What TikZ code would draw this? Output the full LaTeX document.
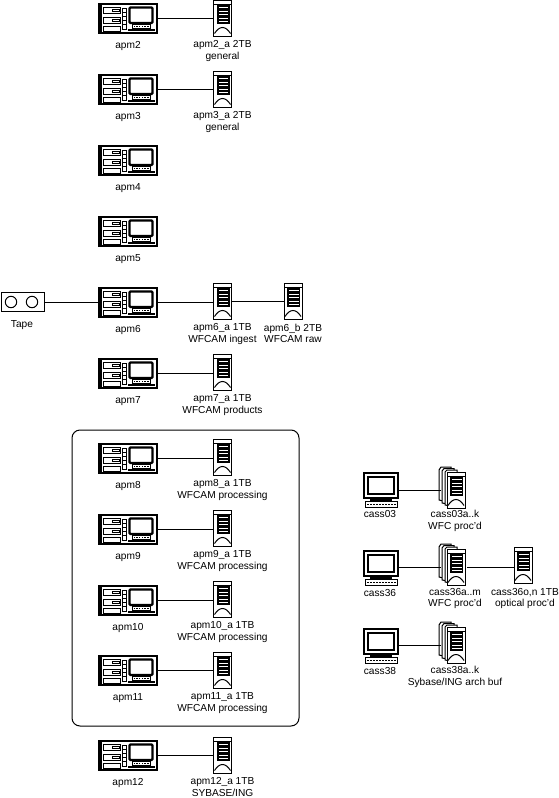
\documentclass[tikz,border=0pt]{standalone}
\usepackage{fontspec}
\setmainfont{Liberation Sans}
\tikzset{
 x=1pt,y=-1pt,
 lbl/.style={font=\fontsize{10.15}{11.5}\selectfont,align=center,inner sep=0pt,anchor=north},
 link/.style={line width=1pt},
 anchorbox/.style={inner sep=0pt,outer sep=0pt},
 thin1/.style={line width=1pt},
 thick1/.style={line width=1.6pt},
 pics/apmicon/.style={code={
  \draw[thick1,fill=white] (0,0) rectangle (58,29);
  \fill (0,0) rectangle (3,29);
  \draw[thin1] (4.5,3) rectangle (21.5,9.5);
  \draw[thin1] (4.5,13) rectangle (21.5,19.5);
  \draw[thin1] (4.5,22) rectangle (21.5,27);
  \draw[thin1] (13,5) rectangle (20,7.5); \draw[thin1] (13,15) rectangle (20,17.5);
  \foreach \k in {0,1,2,3,4}{\draw[line width=.7pt] (23,4+4.2*\k) rectangle (27,8.2+4.2*\k);}
  \draw[line width=2.4pt,fill=white,rounded corners=1pt] (30.5,3.5) rectangle (53.5,19);
  \draw[thin1] (33,20.5) rectangle (51,24.5);
  \foreach \k in {0,...,5}{\fill (34.5+2.7*\k,21.7) rectangle +(1.5,1.5);}
  \draw[line width=1.2pt] (29,26) -- (56,26);
 }},
 pics/srvicon/.style={code={
  \draw[thin1,fill=white] (0,0) rectangle (18,36);
  \draw[thin1] (0,4) -- (18,4);
  \fill (3,4.5) rectangle (16,24);
  \foreach \k in {0,...,4}{\fill[white] (5,7+3.6*\k) rectangle (14.5,8+3.6*\k);}
  \draw[thin1] (1,33.5) .. controls (6,25.5) and (12,25.5) .. (17,33.5);
 }},
 pics/stackicon/.style={code={
  \draw[thin1,fill=white] (0,3) -- (2,0) -- (12,0) -- (12,36) -- (0,33) -- cycle;
  \draw[thin1,fill=white] (3,4) -- (5,1.5) -- (15,1.5) -- (15,38) -- (3,36) -- cycle;
  \draw[thin1,fill=white] (6,5) -- (8,3) -- (18,3) -- (18,40) -- (6,38) -- cycle;
  \begin{scope}[shift={(8,5)}]\pic{srvicon};\end{scope}
 }},
 pics/wsicon/.style={code={
  \draw[line width=2pt,fill=white] (1,0) rectangle (35,25);
  \draw[line width=1.4pt] (5,4) rectangle (31,21);
  \fill (7,26) rectangle (29,28);
  \draw[thin1] (2,28.5) rectangle (34,34);
  \foreach \k in {0,...,9}{\fill (4+3*\k,30.5) rectangle +(1.6,1.6);}
 }},
}
\newcommand{\apmnode}[3]{%
  \pic at (99,#2) {apmicon};
  \node[anchorbox,minimum width=58pt,minimum height=29pt] (#1) at (128,#2+14.5) {};
  \node[lbl] (#1l) at (128,#2+37.5) {#3};}
\newcommand{\srvnode}[5]{%
  \pic at (#2,#3) {srvicon};
  \node[anchorbox,minimum width=18pt,minimum height=36pt] (#1) at (#2+9,#3+18) {};
  \node[lbl] (#1l) at (#2+9,#3+40.5) {#4\\#5};}
\begin{document}
\begin{tikzpicture}
\useasboundingbox (0,0) rectangle (559,798);
\fill[white] (0,0) rectangle (559,798);
\draw[line width=1pt,rounded corners=8pt] (72,430) rectangle (299,726);
% apm machines
\apmnode{apmii}{4}{apm2}
\apmnode{apmiii}{75}{apm3}
\apmnode{apmiv}{146}{apm4}
\apmnode{apmv}{217}{apm5}
\apmnode{apmvi}{288}{apm6}
\apmnode{apmvii}{359}{apm7}
\apmnode{apmviii}{444}{apm8}
\apmnode{apmix}{515}{apm9}
\apmnode{apmx}{586}{apm10}
\apmnode{apmxi}{656}{apm11}
\apmnode{apmxii}{741}{apm12}
% disks
\srvnode{sii}{213.5}{0}{apm2\_a 2TB}{general}
\srvnode{siii}{213.5}{71}{apm3\_a 2TB}{general}
\srvnode{svi}{213.5}{283}{apm6\_a 1TB}{WFCAM ingest}
\srvnode{svib}{284}{283}{apm6\_b 2TB}{WFCAM raw}
\srvnode{svii}{213.5}{354}{apm7\_a 1TB}{WFCAM products}
\srvnode{sviii}{213.5}{439}{apm8\_a 1TB}{WFCAM processing}
\srvnode{six}{213.5}{510}{apm9\_a 1TB}{WFCAM processing}
\srvnode{sx}{213.5}{581}{apm10\_a 1TB}{WFCAM processing}
\srvnode{sxi}{213.5}{652}{apm11\_a 1TB}{WFCAM processing}
\srvnode{sxii}{213.5}{737}{apm12\_a 1TB}{SYBASE/ING}
% tape
\node[draw,line width=1pt,minimum width=43pt,minimum height=19.5pt,inner sep=0pt] (tape) at (22.5,302) {};
\draw[line width=1pt] (11,302) circle (5.7); \draw[line width=1pt] (32,302) circle (5.7);
\node[lbl] at (22,320) {Tape};
% workstations
\pic at (363,473) {wsicon};
\node[anchorbox,minimum width=36pt,minimum height=25pt] (c3) at (381,490) {};
\node[lbl] at (380,510) {cass03};
\pic at (363,551) {wsicon};
\node[anchorbox,minimum width=36pt,minimum height=25pt] (c36) at (381,567) {};
\node[lbl] at (380,589) {cass36};
\pic at (363,629) {wsicon};
\node[anchorbox,minimum width=36pt,minimum height=25pt] (c38) at (381,645) {};
\node[lbl] at (380,667) {cass38};
% stacks
\pic at (439,467) {stackicon};
\node[anchorbox,minimum width=4pt,minimum height=40pt] (d3) at (443,490) {};
\node[lbl] at (455,510) {cass03a..k\\WFC proc'd};
\pic at (439,544) {stackicon};
\node[anchorbox,minimum width=4pt,minimum height=40pt] (d36) at (443,567) {};
\node[lbl] at (455,588) {cass36a..m\\WFC proc'd};
\pic at (439,622) {stackicon};
\node[anchorbox,minimum width=4pt,minimum height=40pt] (d38) at (443,645) {};
\node[lbl] at (455,666) {cass38a..k\\Sybase/ING arch buf};
\pic at (514,547) {srvicon};
\node[anchorbox,minimum width=18pt,minimum height=36pt] (o36) at (523,567) {};
\node[anchorbox,minimum width=2pt,minimum height=10pt] (d36r) at (466,567) {};
\node[lbl] at (525,588) {cass36o,n 1TB\\optical proc'd};
% links
\foreach \a/\b in {apmii/sii,apmiii/siii,apmvi/svi,svi/svib,apmvii/svii,apmviii/sviii,apmix/six,apmx/sx,apmxi/sxi,apmxii/sxii,tape/apmvi,c3/d3,c36/d36,c38/d38,d36r/o36}
  \draw[link] (\a.east) -- (\b.west |- \a.east);
\end{tikzpicture}
\end{document}
